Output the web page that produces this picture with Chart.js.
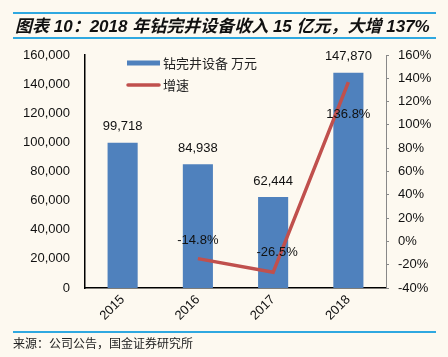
<!DOCTYPE html>
<html><head><meta charset="utf-8">
<script src="https://cdn.jsdelivr.net/npm/chart.js@4.4.1/dist/chart.umd.min.js"></script>
<style>
html,body{margin:0;padding:0;background:#fdf9f0;}
#wrap{position:relative;width:448px;height:357px;overflow:hidden;background:#fdf9f0;}
#c{position:absolute;left:0;top:0;}
.rule{position:absolute;left:13px;width:423px;height:2px;background:#2fa8e0;}
#title{position:absolute;left:15px;top:12px;font:italic bold 17px "Liberation Sans","Noto Sans CJK SC",sans-serif;color:#111;white-space:nowrap;}
#src{position:absolute;left:13px;top:334px;font:12px "Noto Sans CJK SC",sans-serif;color:#222;white-space:nowrap;}
</style></head>
<body><div id="wrap">
<canvas id="c" width="448" height="357"></canvas>
<div class="rule" style="top:12px"></div>
<div id="title">图表 10：2018 年钻完井设备收入 15 亿元，大增 137%</div>
<div class="rule" style="top:37px"></div>
<div class="rule" style="top:331px"></div>
<div id="src">来源：公司公告，国金证券研究所</div>
</div>
<script>
const categories = ['2015','2016','2017','2018'];
const revenue = [99718, 84938, 62444, 147870];
const growth = [null, -14.8, -26.5, 136.8];
const leftTicks = [0,20000,40000,60000,80000,100000,120000,140000,160000];
const rightTicks = [-40,-20,0,20,40,60,80,100,120,140,160];
const seriesNames = ['钻完井设备 万元','增速'];

const BLUE = '#4f81bd', RED = '#c0504d';
const NUM = '13px "Liberation Sans", Arial, sans-serif';

const labelsPlugin = {
  id:'labels',
  afterDatasetsDraw(chart){
    const ctx = chart.ctx;
    ctx.save();
    ctx.font = NUM; ctx.fillStyle = '#111'; ctx.textAlign='center'; ctx.textBaseline='middle';
    const mBar = chart.getDatasetMeta(1);
    mBar.data.forEach((b,i)=>{
      ctx.fillText(revenue[i].toLocaleString('en-US'), b.x, b.y-16);
    });
    const mLine = chart.getDatasetMeta(0);
    const offs = [0,-18,-20,32];
    const dx = [0,0,4,0];
    mLine.data.forEach((p,i)=>{
      if (growth[i]==null) return;
      ctx.fillText(growth[i].toFixed(1)+'%', p.x+dx[i], p.y+offs[i]);
    });
    // legend
    ctx.lineCap='butt';
    ctx.strokeStyle=BLUE; ctx.lineWidth=5;
    ctx.beginPath(); ctx.moveTo(127,63); ctx.lineTo(160,63); ctx.stroke();
    ctx.strokeStyle=RED; ctx.lineWidth=3.5; ctx.lineCap='round';
    ctx.beginPath(); ctx.moveTo(128,85); ctx.lineTo(159,85); ctx.stroke();
    ctx.font='13px "Noto Sans CJK SC", sans-serif'; ctx.textAlign='left'; ctx.fillStyle='#222';
    ctx.fillText(seriesNames[0],163,63);
    ctx.fillText(seriesNames[1],163,85);
    ctx.restore();
  }
};

new Chart(document.getElementById('c'),{
  data:{
    labels:categories,
    datasets:[
      {type:'line',label:seriesNames[1],data:growth,yAxisID:'y1',borderColor:RED,borderWidth:3.5,pointRadius:0,tension:0,order:0},
      {type:'bar',label:seriesNames[0],data:revenue,yAxisID:'y',backgroundColor:BLUE,barPercentage:0.4,categoryPercentage:1,order:1}
    ]
  },
  options:{
    responsive:false,animation:false,
    layout:{padding:{top:55,bottom:29,left:0,right:0}},
    plugins:{legend:{display:false},tooltip:{enabled:false}},
    scales:{
      x:{grid:{display:false,drawTicks:false},border:{color:'#000',width:1.5},
         ticks:{color:'#111',font:{size:13,family:'"Liberation Sans", Arial'},minRotation:45,maxRotation:45,padding:4},
         afterFit(s){s.height=40;}},
      y:{position:'left',min:0,max:160000,
         afterBuildTicks(s){s.ticks=leftTicks.map(v=>({value:v}));},
         ticks:{color:'#111',font:{size:13,family:'"Liberation Sans", Arial'},padding:15,callback:v=>v.toLocaleString('en-US')},
         grid:{display:false,drawTicks:false},border:{color:'#000',width:1.5},
         afterFit(s){s.width=85;}},
      y1:{position:'right',min:-40,max:160,
         afterBuildTicks(s){s.ticks=rightTicks.map(v=>({value:v}));},
         ticks:{color:'#111',font:{size:13,family:'"Liberation Sans", Arial'},padding:9,callback:v=>v+'%'},
         grid:{drawOnChartArea:false,drawTicks:true,tickLength:3,color:'#888'},border:{color:'#888',width:1},
         afterFit(s){s.width=62;}}
    }
  },
  plugins:[labelsPlugin]
});
</script>
</body></html>
